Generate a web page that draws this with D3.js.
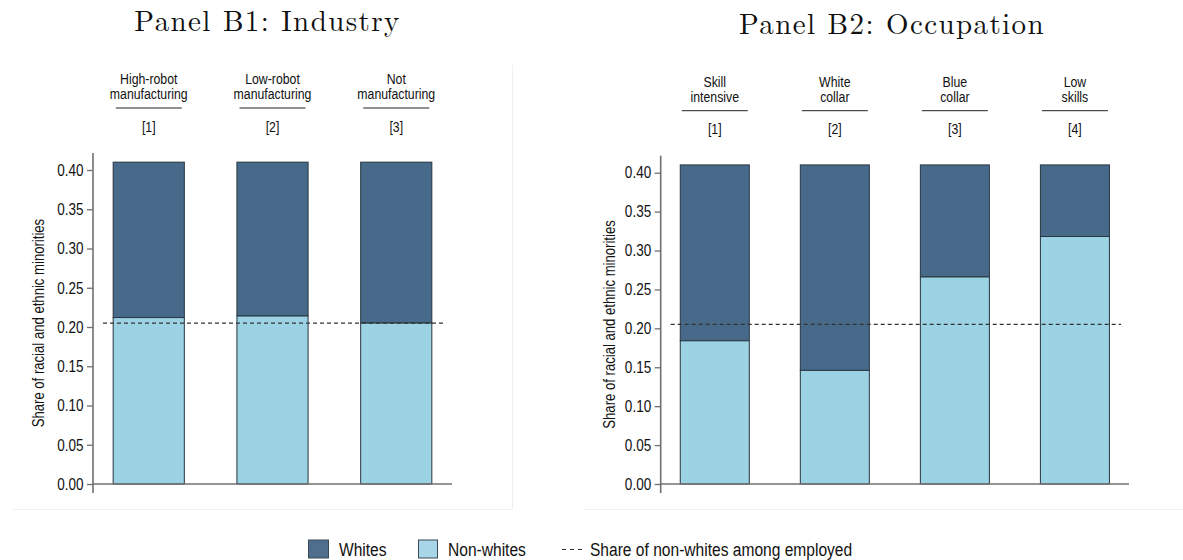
<!DOCTYPE html>
<html>
<head>
<meta charset="utf-8">
<script src="https://cdn.jsdelivr.net/npm/d3@7"></script>
<style>
 body{margin:0;background:#fff;}
 svg{display:block;}
 .narrow{font-family:"Liberation Sans Narrow","Arial Narrow","Liberation Sans",Arial,sans-serif;fill:#111;}
 .title{font-family:"Latin Modern Roman","CMU Serif","Liberation Serif",serif;fill:#111;}
</style>
</head>
<body>
<div id="chart"></div>
<script>
// data
const industryCats=[['High-robot','manufacturing'],['Low-robot','manufacturing'],['Not','manufacturing']];
const industryNonWhites=[0.212,0.214,0.205];
const industryWhites=[0.198,0.196,0.205];
const occupationCats=[['Skill','intensive'],['White','collar'],['Blue','collar'],['Low','skills']];
const occupationNonWhites=[0.184,0.146,0.266,0.318];
const occupationWhites=[0.226,0.264,0.144,0.092];
const benchmark=0.205;
const yTicks=[0,0.05,0.10,0.15,0.20,0.25,0.30,0.35,0.40];
const yLabel='Share of racial and ethnic minorities';
const legendItems=['Whites','Non-whites','Share of non-whites among employed'];

const W=1183,H=560,SQ=0.82; // SQ: horizontal squeeze to fake a narrow face
const cWhite='#486a8a',cNon='#9bd2e4',cEdge='#27353f',cAxis='#707070';
const svg=d3.select('#chart').append('svg').attr('width',W).attr('height',H);

// narrow text: x is given in page units, glyphs squeezed horizontally
function ntext(parent,x,y,size,anchor,str){
 return parent.append('text').attr('class','narrow').attr('x',x/SQ).attr('y',y).attr('dy','0.35em')
  .attr('font-size',size).attr('text-anchor',anchor).attr('transform',`scale(${SQ},1)`).text(str);
}

// faint panel frames
const frame='#eef1f2';
svg.append('line').attr('x1',512.5).attr('x2',512.5).attr('y1',65).attr('y2',509).attr('stroke',frame);
svg.append('line').attr('x1',13).attr('x2',512.5).attr('y1',509.5).attr('y2',509.5).attr('stroke',frame);
svg.append('line').attr('x1',583).attr('x2',W).attr('y1',509.5).attr('y2',509.5).attr('stroke',frame);

function panel(o){
 const g=svg.append('g');
 const y=d3.scaleLinear().domain([0,0.4]).range([484,o.top]);
 const x=d3.scaleBand().domain(o.cats.map((d,i)=>i)).range([o.x0,o.x1]).paddingInner(0.425).paddingOuter(0.163);
 const t0=y(0.4);
 g.append('text').attr('class','title').attr('x',o.titleX).attr('y',t0-139)
  .attr('text-anchor','middle').attr('font-size',29).attr('letter-spacing',1.4).text(o.title);
 // column headers
 const hd=g.selectAll('g.hd').data(o.cats).enter().append('g').attr('class','hd')
  .attr('transform',(d,i)=>`translate(${x(i)+x.bandwidth()/2},0)`);
 hd.each(function(d,i){
  const h=d3.select(this);
  ntext(h,0,t0-91,15,'middle',d[0]);
  ntext(h,0,t0-76,15,'middle',d[1]);
  ntext(h,0,t0-43.5,15,'middle',`[${i+1}]`);
 });
 hd.append('line').attr('x1',-33).attr('x2',33).attr('y1',t0-62).attr('y2',t0-62).attr('stroke','#222').attr('stroke-width',1);
 // bars
 const rows=o.cats.map((d,i)=>({i,non:o.non[i],wh:o.wh[i]}));
 g.selectAll('rect.wh').data(rows).enter().append('rect').attr('class','wh')
  .attr('x',d=>x(d.i)).attr('width',x.bandwidth()).attr('y',d=>y(d.non+d.wh)).attr('height',d=>y(d.non)-y(d.non+d.wh))
  .attr('fill',cWhite).attr('stroke',cEdge).attr('stroke-width',1);
 g.selectAll('rect.non').data(rows).enter().append('rect').attr('class','non')
  .attr('x',d=>x(d.i)).attr('width',x.bandwidth()).attr('y',d=>y(d.non)).attr('height',d=>y(0)-y(d.non))
  .attr('fill',cNon).attr('stroke',cEdge).attr('stroke-width',1);
 // benchmark line
 g.append('line').attr('x1',o.x0+10).attr('x2',o.x1-8).attr('y1',y(benchmark)).attr('y2',y(benchmark))
  .attr('stroke','#333').attr('stroke-width',1.3).attr('stroke-dasharray','4,3');
 // axes
 const ax=g.append('g').attr('transform',`translate(${o.x0},0)`)
  .call(d3.axisLeft(y).tickValues(yTicks).tickFormat(d3.format('.2f')).tickSize(6).tickPadding(3.5).tickSizeOuter(0));
 ax.select('.domain').remove();
 ax.selectAll('line').attr('stroke',cAxis).attr('stroke-width',1.3);
 ax.selectAll('text').attr('class','narrow').attr('font-size',16.5).attr('fill','#111')
  .attr('x',-9.5/SQ).attr('transform',`scale(${SQ},1)`);
 g.append('line').attr('x1',o.x0).attr('x2',o.x0).attr('y1',t0-17).attr('y2',y(0)+9).attr('stroke',cAxis).attr('stroke-width',1.6);
 g.append('line').attr('x1',o.x0).attr('x2',o.x1).attr('y1',y(0)).attr('y2',y(0)).attr('stroke',cAxis).attr('stroke-width',1.3);
 g.append('text').attr('class','narrow').attr('font-size',16).attr('text-anchor','middle')
  .attr('transform',`translate(${o.x0-o.labOff},${(y(0)+y(0.41))/2}) rotate(-90) scale(${SQ},1)`).attr('dy','0.35em').text(yLabel);
}

panel({title:'Panel B1: Industry',titleX:267.5,cats:industryCats,non:industryNonWhites,wh:industryWhites,x0:93,x1:452,top:170,labOff:54.5});
panel({title:'Panel B2: Occupation',titleX:892,cats:occupationCats,non:occupationNonWhites,wh:occupationWhites,x0:660.7,x1:1129,top:172.7,labOff:51});

// legend
const lg=svg.append('g');
const ly=549;
lg.append('rect').attr('x',308.5).attr('y',540).attr('width',20).attr('height',18).attr('fill','#4f6e8e').attr('stroke','#3a4a55');
ntext(lg,339,ly,19,'start',legendItems[0]);
lg.append('rect').attr('x',418.5).attr('y',540).attr('width',19).attr('height',18).attr('fill','#a8d5e8').attr('stroke','#3a4a55');
ntext(lg,448,ly,19,'start',legendItems[1]);
lg.append('line').attr('x1',562).attr('x2',584).attr('y1',ly+0.5).attr('y2',ly+0.5).attr('stroke','#333').attr('stroke-width',1.2).attr('stroke-dasharray','4,4');
ntext(lg,590,ly,19,'start',legendItems[2]);
</script>
</body>
</html>
